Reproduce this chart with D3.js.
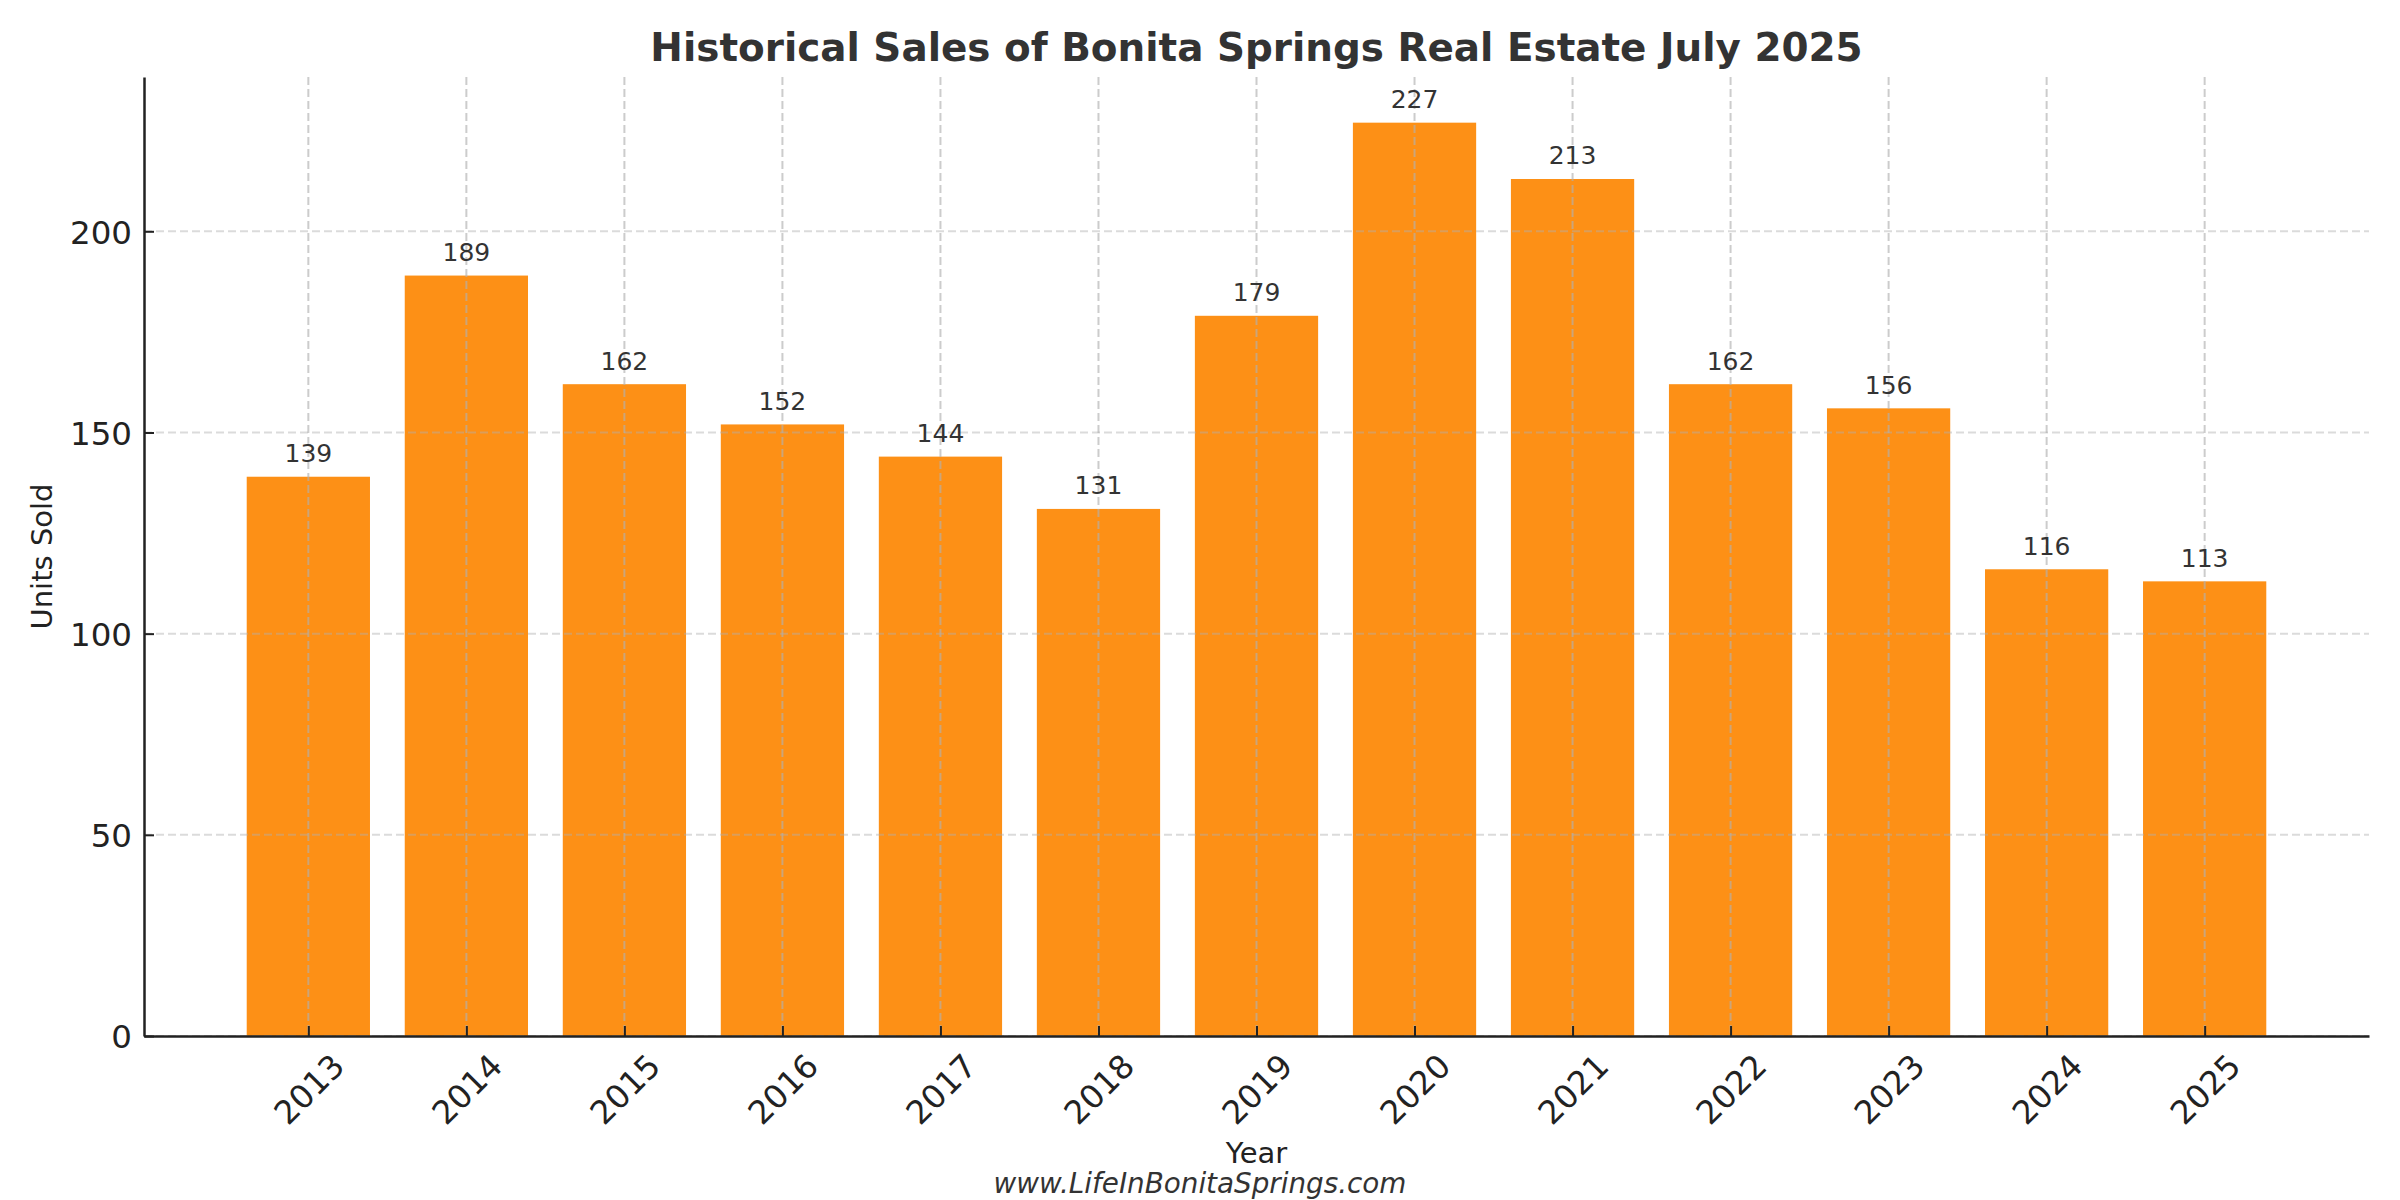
<!DOCTYPE html>
<html>
<head>
<meta charset="utf-8">
<script src="https://cdn.jsdelivr.net/npm/d3@7"></script>
<style>
  body { margin: 0; background: #fff; }
  text { font-family: "DejaVu Sans", sans-serif; }
</style>
</head>
<body>
<svg id="chart"></svg>
<script>
const years = ["2013", "2014", "2015", "2016", "2017", "2018", "2019", "2020", "2021", "2022", "2023", "2024", "2025"];
const unitsSold = [139, 189, 162, 152, 144, 131, 179, 227, 213, 162, 156, 116, 113];
const yTicks = [0, 50, 100, 150, 200];

const W = 2400, H = 1200;
const margin = {top: 77, right: 31, bottom: 164, left: 144},
  width = W - margin.left - margin.right,
  height = H - margin.top - margin.bottom;

const svg = d3.select("#chart")
  .attr("width", W)
  .attr("height", H);

const g = svg.append("g")
  .attr("transform", "translate(" + margin.left + "," + margin.top + ")");

// matplotlib-like limits: bar width 0.8 plus 5% margins
const barW = 0.78;
const xPad = 0.4 + 0.05 * (years.length - 1 + 0.8);
const x = d3.scaleLinear()
  .domain([-xPad, years.length - 1 + xPad])
  .range([0, width]);
const y = d3.scaleLinear()
  .domain([0, d3.max(unitsSold) * 1.05])
  .range([height, 0]);

// bars
g.append("g")
  .selectAll("rect")
  .data(unitsSold)
  .join("rect")
    .attr("x", (d, i) => x(i - barW / 2))
    .attr("width", x(barW) - x(0))
    .attr("y", d => y(d))
    .attr("height", d => y(0) - y(d))
    .attr("fill", "#fd9016");

// grid on top of bars
g.append("g")
  .selectAll("line")
  .data(years)
  .join("line")
    .attr("x1", (d, i) => x(i))
    .attr("x2", (d, i) => x(i))
    .attr("y1", 0)
    .attr("y2", height)
    .attr("stroke", "#b0b0b0")
    .attr("stroke-opacity", 0.65)
    .attr("stroke-width", 2)
    .attr("stroke-dasharray", "8,4");

g.append("g")
  .selectAll("line")
  .data(yTicks)
  .join("line")
    .attr("x1", 0)
    .attr("x2", width)
    .attr("y1", d => y(d))
    .attr("y2", d => y(d))
    .attr("stroke", "#b0b0b0")
    .attr("stroke-opacity", 0.45)
    .attr("stroke-width", 2)
    .attr("stroke-dasharray", "8,4");

// value labels
g.append("g")
  .selectAll("text")
  .data(unitsSold)
  .join("text")
    .attr("x", (d, i) => x(i))
    .attr("y", d => y(d) - 14.5)
    .attr("text-anchor", "middle")
    .attr("font-size", "25px")
    .attr("fill", "#333")
    .text(d => d);

// axes
const yAxis = d3.axisLeft(y)
  .tickValues(yTicks)
  .tickSizeInner(-10)
  .tickSizeOuter(0)
  .tickPadding(12);

const xAxis = d3.axisBottom(x)
  .tickValues(d3.range(years.length))
  .tickFormat(i => years[i])
  .tickSizeInner(-10)
  .tickSizeOuter(0);

const gy = g.append("g").call(yAxis);
gy.select(".domain").attr("stroke", "#222").attr("stroke-width", 2.5);
gy.selectAll(".tick line").attr("stroke", "#222").attr("stroke-width", 2);
gy.selectAll(".tick text")
  .attr("font-size", "32.5px")
  .attr("font-family", "DejaVu Sans")
  .attr("fill", "#222")
  .attr("dy", "0.36em");

const gx = g.append("g")
  .attr("transform", "translate(0," + height + ")")
  .call(xAxis);
gx.select(".domain").attr("stroke", "#222").attr("stroke-width", 2.5);
gx.selectAll(".tick line").attr("stroke", "#222").attr("stroke-width", 2);
gx.selectAll(".tick text")
  .attr("font-size", "32.5px")
  .attr("font-family", "DejaVu Sans")
  .attr("fill", "#222")
  .attr("text-anchor", "middle")
  .attr("y", 0)
  .attr("dy", "0.36em")
  .attr("transform", "translate(0,53) rotate(-45)");

// axis titles
g.append("text")
  .attr("x", width / 2)
  .attr("y", 1163 - margin.top)
  .attr("text-anchor", "middle")
  .attr("font-size", "29px")
  .attr("fill", "#222")
  .text("Year");

g.append("text")
  .attr("transform", "rotate(-90)")
  .attr("x", -height / 2)
  .attr("y", -144 + 52)
  .attr("text-anchor", "middle")
  .attr("font-size", "29px")
  .attr("fill", "#222")
  .text("Units Sold");

// chart title
g.append("text")
  .attr("x", width / 2)
  .attr("y", 60.5 - margin.top)
  .attr("text-anchor", "middle")
  .attr("font-size", "38.9px")
  .attr("font-weight", "bold")
  .attr("fill", "#333")
  .text("Historical Sales of Bonita Springs Real Estate July 2025");

// footer
svg.append("text")
  .attr("x", W / 2)
  .attr("y", 1193)
  .attr("text-anchor", "middle")
  .attr("font-size", "27.8px")
  .attr("font-style", "italic")
  .attr("fill", "#333")
  .text("www.LifeInBonitaSprings.com");
</script>
</body>
</html>
